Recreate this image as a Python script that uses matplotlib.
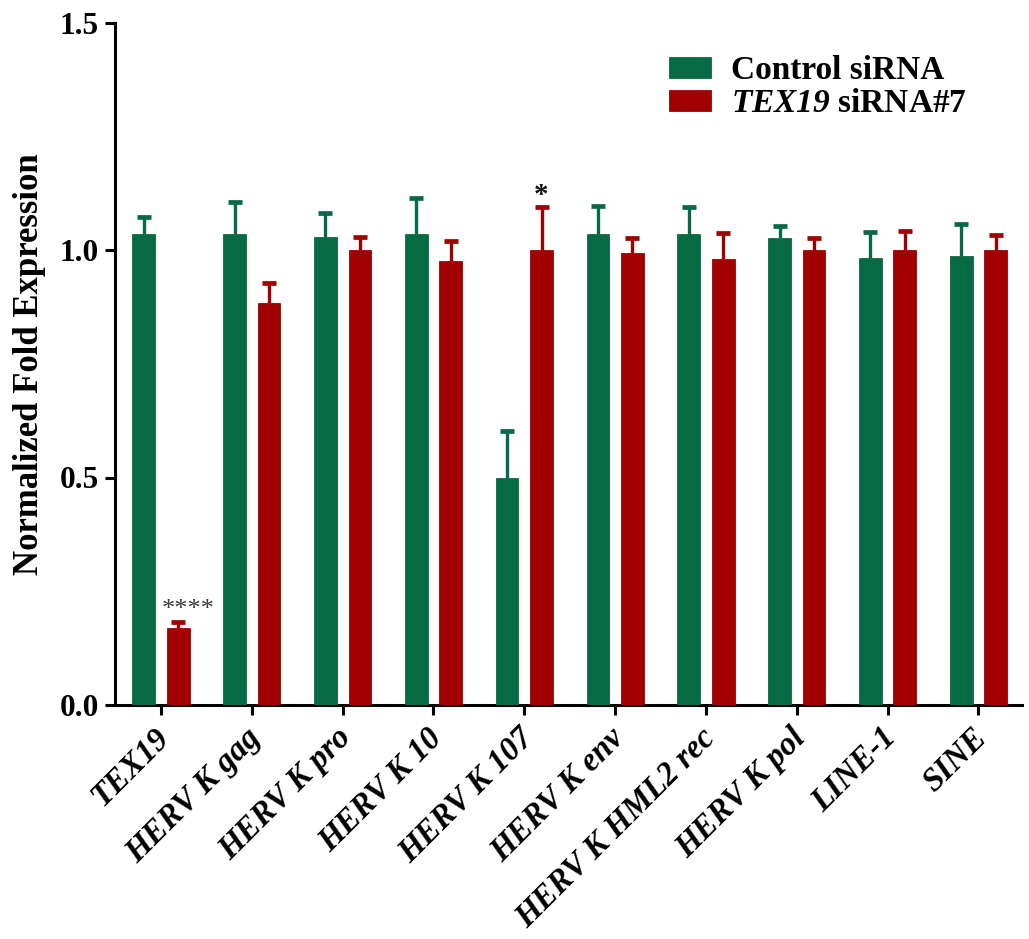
import numpy as np
import matplotlib
matplotlib.use("Agg")
import matplotlib.pyplot as plt
from matplotlib.transforms import ScaledTranslation

plt.rcParams['font.family'] = ['Liberation Serif', 'DejaVu Serif']
plt.rcParams['font.weight'] = 'bold'
plt.rcParams['mathtext.fontset'] = 'custom'
plt.rcParams['mathtext.rm'] = 'Liberation Serif:bold'
plt.rcParams['mathtext.bf'] = 'Liberation Serif:bold'
plt.rcParams['mathtext.it'] = 'Liberation Serif:italic:bold'
plt.rcParams['mathtext.bfit'] = 'Liberation Serif:italic:bold'

# qPCR targets
categories = ["TEX19", "HERV K gag", "HERV K pro", "HERV K 10", "HERV K 107",
              "HERV K env", "HERV K HML2 rec", "HERV K pol", "LINE-1", "SINE"]

# mean normalized fold expression and upper error (SEM)
control_mean = [1.036, 1.036, 1.029, 1.036, 0.500, 1.035, 1.035, 1.027, 0.982, 0.987]
control_err = [0.037, 0.069, 0.052, 0.079, 0.102, 0.062, 0.059, 0.026, 0.058, 0.071]
tex19_mean = [0.169, 0.884, 1.000, 0.976, 1.000, 0.993, 0.980, 1.000, 1.000, 1.000]
tex19_err = [0.013, 0.043, 0.029, 0.044, 0.095, 0.033, 0.057, 0.026, 0.041, 0.033]

# significance marks above the TEX19 siRNA bars
sig_labels = ["****", "", "", "", "*", "", "", "", "", ""]

series_labels = ["Control siRNA", r"$\mathbfit{TEX19}$ siRNA#7"]
yticks = [0.0, 0.5, 1.0, 1.5]

green = "#066a44"
red = "#a00000"

fig = plt.figure(figsize=(10.29, 9.39), dpi=100)
ax = fig.add_axes([115 / 1029, 1 - 705 / 939, (1022 - 115) / 1029, (705 - 22.5) / 939])

x = np.arange(len(categories))
width = 0.25
off = 0.19

def draw_series(xpos, mean, err, color, label):
    mean = np.asarray(mean)
    err = np.asarray(err)
    ax.bar(xpos, mean, width, color=color, edgecolor=color, linewidth=0.6,
           label=label, zorder=3)
    ax.vlines(xpos, mean, mean + err, colors=color, linewidth=2.4, zorder=2)
    ax.plot(xpos, mean + err, linestyle='none', marker='_', markersize=10,
            markeredgewidth=3.4, color=color, zorder=2)

draw_series(x - off, control_mean, control_err, green, series_labels[0])
draw_series(x + off, tex19_mean, tex19_err, red, series_labels[1])

for xi, m, e, s in zip(x, tex19_mean, tex19_err, sig_labels):
    if not s:
        continue
    if len(s) > 1:
        ax.text(xi + off + 0.11, m + e + 0.002, s, ha='center', va='bottom',
                fontsize=19, fontweight='normal', color='#3a3a3a')
    else:
        ax.text(xi + off, m + e - 0.004, s, ha='center', va='bottom',
                fontsize=21, fontweight='bold', color='#111111')

ax.set_xlim(-0.507, 9.48)
ax.set_ylim(0, 1.5)
ax.set_yticks(yticks)
ax.set_yticklabels([f"{t:.1f}" for t in yticks], fontsize=22.5, fontweight='bold')
ax.set_xticks(x)
ax.set_xticklabels([])

# rotated category labels hung below each tick
label_tf = ax.get_xaxis_transform() + ScaledTranslation(0.04, -0.28, fig.dpi_scale_trans)
for xi, name in zip(x, categories):
    ax.text(xi, 0, name, transform=label_tf, rotation=45, ha='right', va='center',
            rotation_mode='anchor', fontsize=23.5, fontweight='bold',
            fontstyle='italic', clip_on=False)

for side in ['top', 'right']:
    ax.spines[side].set_visible(False)
for side in ['left', 'bottom']:
    ax.spines[side].set_linewidth(2.2)
ax.tick_params(axis='both', direction='out', length=7.5, width=2.2, pad=4)

ax.set_ylabel("Normalized Fold Expression", fontsize=25, fontweight='bold', labelpad=10)

leg = ax.legend(loc='upper left', bbox_to_anchor=(646 / 1029, 1 - 32 / 939),
                bbox_transform=fig.transFigure, frameon=False, fontsize=24,
                handlelength=1.25, handleheight=0.6, handletextpad=0.6,
                labelspacing=0.05, borderpad=0.2)

fig.savefig("out.png", dpi=100)
